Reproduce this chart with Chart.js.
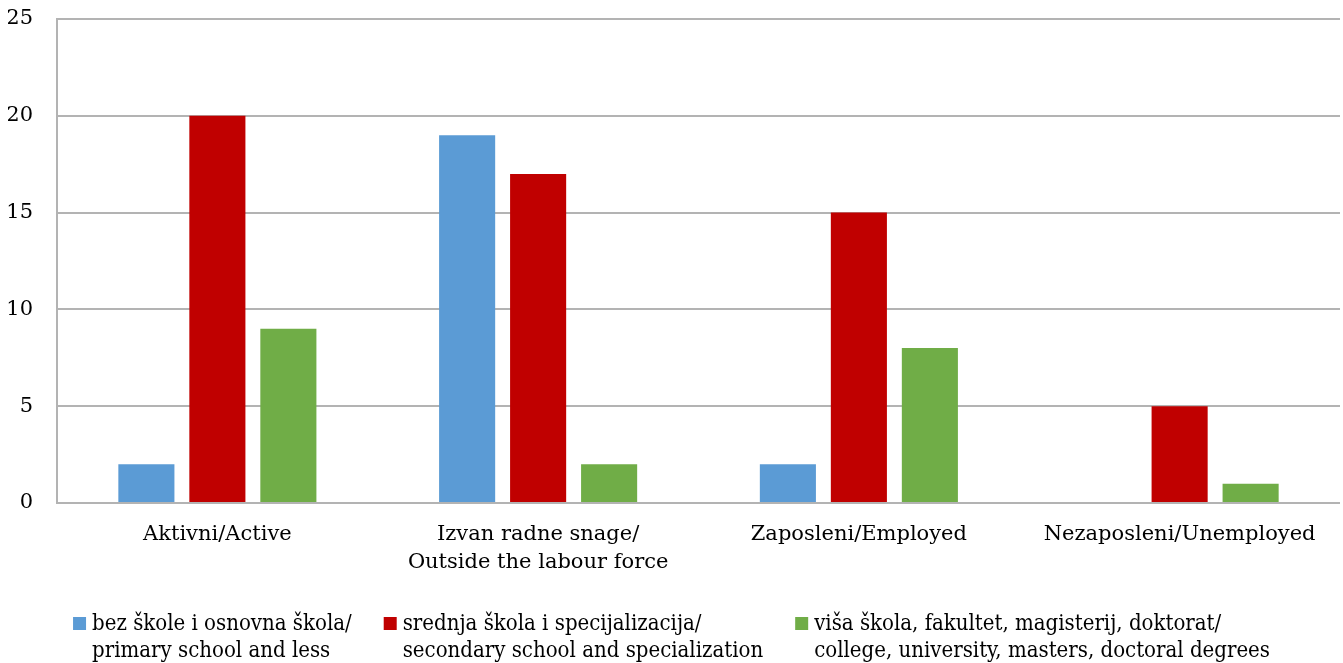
<!DOCTYPE html>
<html lang="hr">
<head>
  <meta charset="UTF-8" />
  <title>Aktivnost prema obrazovanju</title>
  <script src="https://cdn.jsdelivr.net/npm/chart.js"></script>
  <style>
    html, body {
      margin: 0;
      padding: 0;
      background: #fff;
    }
    .chart-box {
      width: 1343px;
      height: 663px;
      position: relative;
    }
  </style>
</head>
<body>
  <div class="chart-box"><canvas id="eduChart"></canvas></div>

  <script>
    const categories = [
      'Aktivni/Active',
      ['Izvan radne snage/', 'Outside the labour force'],
      'Zaposleni/Employed',
      'Nezaposleni/Unemployed'
    ];
    const seriesNames = [
      ['bez škole i osnovna škola/', 'primary school and less'],
      ['srednja škola i specijalizacija/', 'secondary school and specialization'],
      ['viša škola, fakultet, magisterij, doktorat/', 'college, university, masters, doctoral degrees']
    ];
    const primaryValues = [2, 19, 2, 0];
    const secondaryValues = [20, 17, 15, 5];
    const higherValues = [9, 2, 8, 1];
    const yTicks = [0, 5, 10, 15, 20, 25];

    const colors = ['#5b9bd5', '#c00000', '#70ad47'];
    const FONT = "'DejaVu Serif', 'Liberation Serif', serif";
    const LEGEND_FONT = "22px 'DejaVu Serif Condensed', 'Liberation Serif', serif";
    const FSIZE = 21;

    // legend drawn by hand so the two-line labels sit like the original
    const bottomLegend = {
      id: 'bottomLegend',
      afterDraw(chart) {
        const c = chart.ctx;
        const box = 13, gapText = 6, gapItem = 32;
        c.save();
        c.font = LEGEND_FONT;
        c.textBaseline = 'alphabetic';
        const widths = seriesNames.map(lines => box + gapText + Math.max(...lines.map(t => c.measureText(t).width)));
        const total = widths.reduce((a, b) => a + b, 0) + gapItem * (widths.length - 1);
        let x = (chart.width - total) / 2;
        const top = 617;
        chart.data.datasets.forEach((ds, i) => {
          c.fillStyle = ds.backgroundColor;
          c.fillRect(x, top, box, box);
          c.fillStyle = '#000';
          seriesNames[i].forEach((t, k) => c.fillText(t, x + box + gapText, top + 13 + k * 27));
          x += widths[i] + gapItem;
        });
        c.restore();
      }
    };

    const ctx = document.getElementById('eduChart').getContext('2d');
    const chart = new Chart(ctx, {
      type: 'bar',
      data: {
        labels: categories,
        datasets: [primaryValues, secondaryValues, higherValues].map((vals, i) => ({
          label: seriesNames[i].join(' '),
          data: vals,
          backgroundColor: colors[i],
          borderWidth: 0,
          categoryPercentage: 0.664,
          barPercentage: 0.79
        }))
      },
      options: {
        animation: false,
        responsive: true,
        maintainAspectRatio: false,
        layout: { padding: { left: 8, right: 3, top: 19, bottom: 63 } },
        scales: {
          x: {
            grid: { display: false, drawTicks: false },
            border: { display: false },
            afterFit: axis => {
              axis.height = 97;
              axis.paddingLeft = 0;
              axis.paddingRight = 0;
            },
            ticks: {
              color: '#000',
              padding: 18,
              maxRotation: 0,
              autoSkip: false,
              font: { family: FONT, size: FSIZE, lineHeight: 1.33 }
            }
          },
          y: {
            min: 0,
            max: 25,
            afterBuildTicks: axis => { axis.ticks = yTicks.map(v => ({ value: v })); },
            afterFit: axis => {
              axis.width = 49;
              axis.paddingTop = 0;
              axis.paddingBottom = 0;
            },
            grid: { color: '#b3b3b3', lineWidth: 2, drawTicks: false },
            border: { display: true, color: '#b3b3b3', width: 2 },
            ticks: {
              color: '#000',
              padding: 24,
              font: { family: FONT, size: FSIZE }
            }
          }
        },
        plugins: {
          tooltip: { enabled: false },
          legend: { display: false }
        }
      },
      plugins: [bottomLegend]
    });
  </script>
</body>
</html>
